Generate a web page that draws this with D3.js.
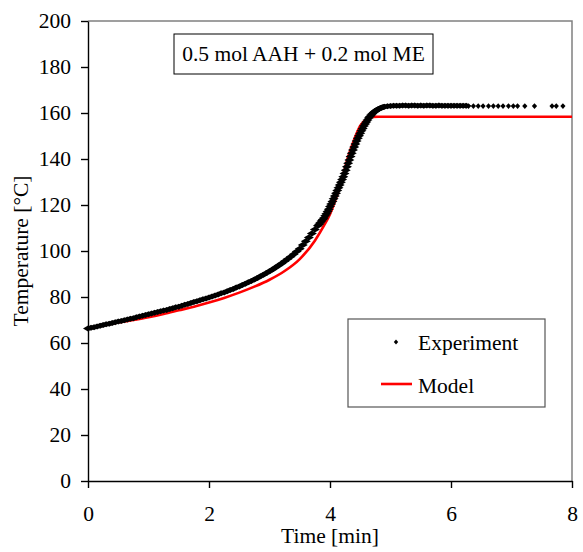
<!DOCTYPE html>
<html>
<head>
<meta charset="utf-8">
<script src="https://cdn.jsdelivr.net/npm/d3@7"></script>
<style>
  body { margin: 0; background: #fff; }
  svg { display: block; }
  svg text { font-family: "Liberation Serif", "Times New Roman", Times, serif; }
</style>
</head>
<body>
<script>
// values

const xTicks = [0, 2, 4, 6, 8];
const yTicks = [0, 20, 40, 60, 80, 100, 120, 140, 160, 180, 200];

// model curve (min, degC)
const modelTime = [0, 0.25, 0.5, 0.75, 1, 1.25, 1.5, 1.75, 2, 2.25, 2.5, 2.75, 3, 3.25, 3.5, 3.75,
  3.9, 4, 4.1, 4.2, 4.3, 4.4, 4.5, 4.6, 4.7, 4.8, 5, 8];
const modelTemp = [66.2, 67.6, 68.9, 70.0, 71.2, 72.6, 74.2, 75.8, 77.6, 79.6, 81.9, 84.5, 87.5, 91.3, 96.5, 104.5,
  111, 116, 123, 131.5, 141, 148.5, 154.5, 157.3, 158.3, 158.4, 158.4, 158.4];

// experiment, dense part of the record
const expTime = [
  0, 0.05, 0.1, 0.15, 0.2, 0.25, 0.3, 0.35, 0.4, 0.45, 0.5, 0.55, 0.6, 0.65, 0.7, 0.75, 0.8, 0.85, 0.9, 0.95,
  1, 1.05, 1.1, 1.15, 1.2, 1.25, 1.3, 1.35, 1.4, 1.45, 1.5, 1.55, 1.6, 1.65, 1.7, 1.75, 1.8, 1.85, 1.9, 1.95,
  2, 2.05, 2.1, 2.15, 2.2, 2.25, 2.3, 2.35, 2.4, 2.45, 2.5, 2.55, 2.6, 2.65, 2.7, 2.75, 2.8, 2.85, 2.9, 2.95,
  3, 3.05, 3.1, 3.15, 3.2, 3.25, 3.3, 3.35, 3.4, 3.45, 3.5, 3.55, 3.6, 3.65, 3.7, 3.75, 3.8,
  3.82, 3.84, 3.86, 3.88, 3.9, 3.92, 3.94, 3.96, 3.98, 4, 4.02, 4.04, 4.06, 4.08, 4.1, 4.12, 4.14, 4.16, 4.18, 4.2,
  4.22, 4.24, 4.26, 4.28, 4.3, 4.32, 4.34, 4.36, 4.38, 4.4, 4.42, 4.44, 4.46, 4.48, 4.5, 4.52, 4.54, 4.56, 4.58, 4.6,
  4.62, 4.64, 4.66, 4.68, 4.7, 4.72, 4.74, 4.76, 4.78, 4.8, 4.82, 4.84, 4.86, 4.88, 4.9,
  4.95, 5, 5.05, 5.1, 5.15, 5.2, 5.25, 5.3, 5.35, 5.4, 5.45, 5.5, 5.55, 5.6, 5.65, 5.7, 5.75, 5.8, 5.85, 5.9,
  5.95, 6, 6.05, 6.1, 6.15, 6.2, 6.25
];
const expTemp = [
  66.3, 66.6, 66.9, 67.2, 67.5, 67.8, 68.1, 68.4, 68.7, 69.0, 69.3, 69.6, 69.9, 70.2, 70.5, 70.8, 71.2, 71.5, 71.8, 72.2,
  72.5, 72.8, 73.1, 73.5, 73.8, 74.1, 74.4, 74.8, 75.1, 75.5, 75.8, 76.2, 76.6, 77.0, 77.4, 77.8, 78.2, 78.6, 79.0, 79.4,
  79.8, 80.2, 80.7, 81.1, 81.6, 82.0, 82.5, 83.0, 83.5, 84.1, 84.6, 85.2, 85.8, 86.4, 87.0, 87.6, 88.3, 89.0, 89.7, 90.4,
  91.2, 92.0, 92.8, 93.7, 94.6, 95.5, 96.5, 97.5, 98.6, 99.8, 101.0, 102.6, 104.2, 105.9, 107.6, 109.3, 111.0,
  111.6, 112.3, 113.0, 113.7, 114.4, 115.3, 116.2, 117.2, 118.2, 119.3, 120.4, 121.5, 122.7, 123.9, 125.1, 126.3, 127.5, 128.7, 129.9, 131.1,
  132.3, 133.7, 135.1, 136.6, 138.1, 139.6, 141.1, 142.5, 143.9, 145.2, 146.5, 147.8, 149.0, 150.1, 151.2, 152.3, 153.3, 154.3, 155.2, 156.1,
  157.0, 157.8, 158.5, 159.1, 159.7, 160.2, 160.6, 161.0, 161.4, 161.7, 162.0, 162.2, 162.4, 162.6, 162.7,
  162.9, 163.0, 163.1, 163.2, 163.2, 163.3, 163.3, 163.2, 163.3, 163.3, 163.2, 163.3, 163.2, 163.3, 163.3, 163.2, 163.2, 163.3, 163.2, 163.2,
  163.1, 163.2, 163.2, 163.1, 163.2, 163.1, 163.1
];

// experiment, sparse tail
const tailTime = [6.29, 6.37, 6.45, 6.53, 6.62, 6.70, 6.78, 6.86, 6.95, 7.03, 7.10, 7.22, 7.38, 7.67, 7.74, 7.85];
const tailTemp = [163, 163, 163, 163, 163, 163, 163, 163, 163, 163, 163, 163, 163, 163, 163, 163];

const noteText = "0.5 mol AAH + 0.2 mol ME";
const legendLabels = ["Experiment", "Model"];

function init() {
  const W = 583, H = 552;
  const FONT = "Liberation Serif, Times New Roman, Times, serif";
  const FS = 21.5;

  const svg = d3.select("body").append("svg")
    .attr("width", W)
    .attr("height", H)
    .style("background-color", "#fff");

  const x = d3.scaleLinear().domain([0, 8]).range([88, 572]);
  const y = d3.scaleLinear().domain([0, 200]).range([481, 21]);

  // diamond marker, hw/hh = half width / half height
  function diamond(hw, hh) {
    return `M0,${-hh}L${hw},0L0,${hh}L${-hw},0Z`;
  }

  // grey frame on top and right
  svg.append("path")
    .attr("d", `M${x(0)},${y(200)}H${x(8)}V${y(0)}`)
    .attr("fill", "none")
    .attr("stroke", "#808080")
    .attr("stroke-width", 1.5);

  // axes
  const yAxis = svg.append("g")
    .attr("transform", `translate(${x(0)},0)`)
    .call(d3.axisLeft(y).tickValues(yTicks).tickSize(7).tickSizeOuter(0).tickPadding(10));
  const xAxis = svg.append("g")
    .attr("transform", `translate(0,${y(0)})`)
    .call(d3.axisBottom(x).tickValues(xTicks).tickSize(7).tickSizeOuter(0).tickPadding(18));

  [yAxis, xAxis].forEach(g => {
    g.attr("font-family", null).attr("font-size", FS);
    g.selectAll("path, line").attr("stroke", "#000").attr("stroke-width", 1.4);
    g.selectAll("text").attr("fill", "#000").style("font-family", FONT);
  });

  // model line
  const line = d3.line()
    .x((d, i) => x(modelTime[i]))
    .y(d => y(d))
    .curve(d3.curveMonotoneX);
  svg.append("path")
    .attr("d", line(modelTemp))
    .attr("fill", "none")
    .attr("stroke", "#ff0000")
    .attr("stroke-width", 2.6);

  // experiment points
  svg.append("g").selectAll("path")
    .data(expTemp)
    .join("path")
    .attr("d", diamond(5, 3))
    .attr("transform", (d, i) => `translate(${x(expTime[i])},${y(d)})`)
    .attr("fill", "#000");

  svg.append("g").selectAll("path")
    .data(tailTemp)
    .join("path")
    .attr("d", diamond(2.6, 2.8))
    .attr("transform", (d, i) => `translate(${x(tailTime[i])},${y(d)})`)
    .attr("fill", "#000");

  // note box
  svg.append("rect")
    .attr("x", 174).attr("y", 34)
    .attr("width", 259).attr("height", 40)
    .attr("fill", "#fff")
    .attr("stroke", "#000")
    .attr("stroke-width", 1);
  svg.append("text")
    .attr("x", 303.5).attr("y", 61)
    .attr("text-anchor", "middle")
    .style("font-family", FONT).attr("font-size", FS)
    .text(noteText);

  // legend
  svg.append("rect")
    .attr("x", 348).attr("y", 319)
    .attr("width", 197).attr("height", 88)
    .attr("fill", "#fff")
    .attr("stroke", "#555")
    .attr("stroke-width", 1.2);
  svg.append("path")
    .attr("d", diamond(2.2, 2.6))
    .attr("transform", "translate(396,342)")
    .attr("fill", "#000");
  svg.append("line")
    .attr("x1", 381).attr("x2", 412)
    .attr("y1", 384).attr("y2", 384)
    .attr("stroke", "#ff0000")
    .attr("stroke-width", 2.6);
  svg.append("g").selectAll("text")
    .data(legendLabels)
    .join("text")
    .attr("x", 418)
    .attr("y", (d, i) => i == 0 ? 350 : 392.5)
    .style("font-family", FONT).attr("font-size", FS)
    .text(d => d);

  // axis titles
  svg.append("text")
    .attr("x", (x(0) + x(8)) / 2).attr("y", 543)
    .attr("text-anchor", "middle")
    .style("font-family", FONT).attr("font-size", FS)
    .text("Time [min]");
  svg.append("text")
    .attr("transform", `translate(28,${(y(0) + y(200)) / 2}) rotate(-90)`)
    .attr("text-anchor", "middle")
    .style("font-family", FONT).attr("font-size", FS)
    .text("Temperature [°C]");
}

init();
</script>
</body>
</html>
